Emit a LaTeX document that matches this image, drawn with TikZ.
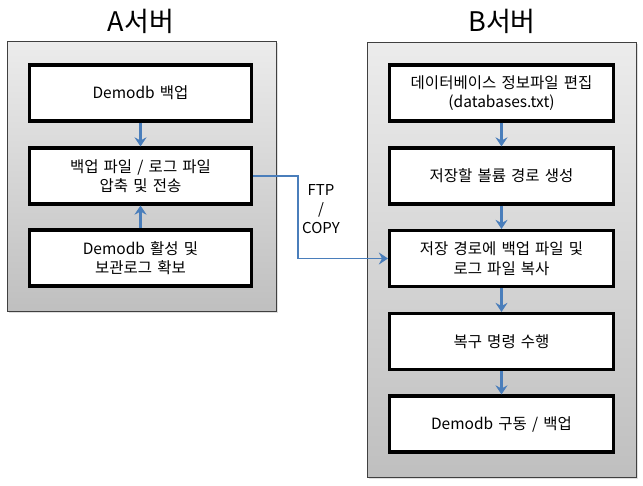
\documentclass[tikz,border=0pt]{standalone}
\usepackage{fontspec}
\setmainfont{Noto Sans CJK KR}[WordSpace=1.5]
\usepackage{xcolor}
\usepackage{tikz}
\usetikzlibrary{shapes,arrows.meta,shadows,positioning}

\definecolor{flowblue}{HTML}{4A7EBB}

\begin{document}
\begin{tikzpicture}[x=1pt, y=-1pt, font=\fontsize{15.5}{19.5}\selectfont]
        % Setup the styles for the panels and the steps
        \tikzset{panel style/.style={rectangle,
                                     draw=black!75,
                                     line width=0.8pt,
                                     top color=gray!15,
                                     bottom color=gray!50,
                                     drop shadow={shadow xshift=1.5pt,
                                                  shadow yshift=-1.5pt,
                                                  opacity=0.25},
                                     minimum width=269pt},
                 node style/.style={rectangle,
                                    draw=black,
                                    line width=3.2pt,
                                    fill=white,
                                    align=center,
                                    minimum width=222pt,
                                    minimum height=56pt},
                 flow/.style={draw=flowblue,
                              line width=2.2pt,
                              -{Stealth[length=9pt, width=12pt, inset=3pt]}}}

        \useasboundingbox (0, 0) rectangle (643, 485);

        % Draw the panels
        \node[panel style, minimum height=270pt] at (141.5, 176)   (panelA) {};
        \node[panel style, minimum height=435pt] at (502, 259.5)   (panelB) {};
        \node[font=\fontsize{27}{30}\selectfont] at (141, 21) (titleA) {A서버};
        \node[font=\fontsize{27}{30}\selectfont] at (502, 21) (titleB) {B서버};

        % Draw the steps of server A
        \node[node style] at (140.5, 93)  (dumpA)    {Demodb 백업};
        \node[node style] at (140.5, 176) (compress) {백업 파일 / 로그 파일\\압축 및 전송};
        \node[node style] at (140.5, 258) (activate) {Demodb 활성 및\\보관로그 확보};

        % Draw the steps of server B
        \node[node style, minimum width=224pt] at (501.5, 93)    (edit)    {데이터베이스 정보파일 편집\\(databases.txt)};
        \node[node style, minimum width=224pt] at (501.5, 176)   (mkpath)  {저장할 볼륨 경로 생성};
        \node[node style, minimum width=224pt] at (501.5, 258.5) (copyB)   {저장 경로에 백업 파일 및\\로그 파일 복사};
        \node[node style, minimum width=224pt] at (501.5, 341.5) (restore) {복구 명령 수행};
        \node[node style, minimum width=224pt] at (501.5, 424)   (startB)  {Demodb 구동 / 백업};

        % Connect the steps with arrows
        \draw[flow] (dumpA)    -- (compress);
        \draw[flow] (activate) -- (compress);
        \draw[flow] (edit)     -- (mkpath);
        \draw[flow] (mkpath)   -- (copyB);
        \draw[flow] (copyB)    -- (restore);
        \draw[flow] (restore)  -- (startB);

        % Transfer between the servers
        \coordinate (bend) at (298, 176);
        \draw[flow, line width=1.6pt] (compress.east) -- (bend) |- (copyB.west);
        \node[align=center, font=\fontsize{15}{19}\selectfont] at (321, 209) (ftp) {FTP\\/\\COPY};
\end{tikzpicture}
\end{document}
